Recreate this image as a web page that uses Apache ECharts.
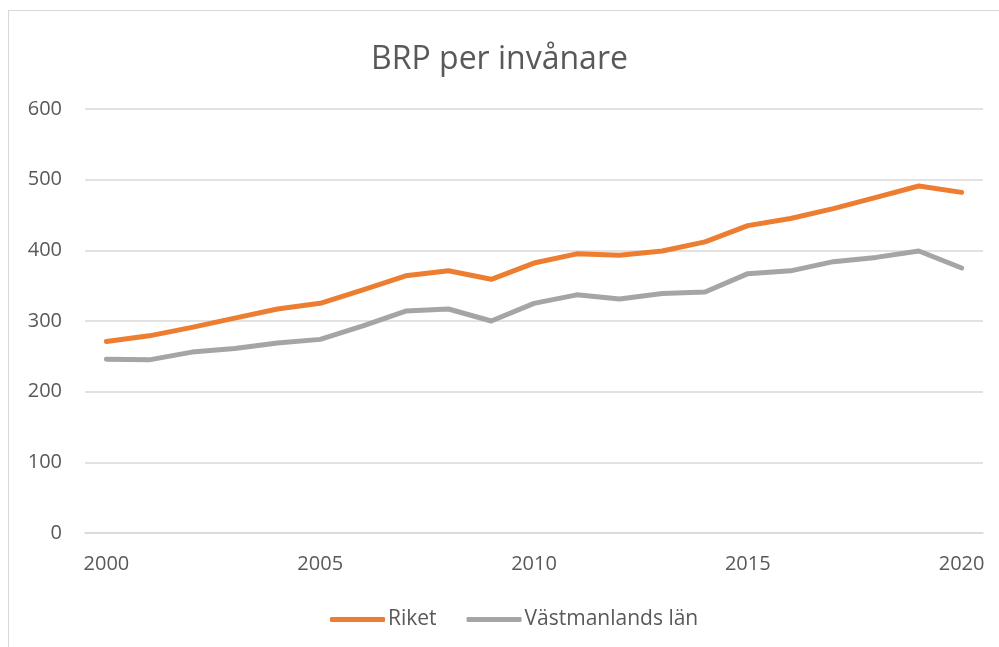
<!DOCTYPE html>
<html>
<head>
<meta charset="utf-8">
<script src="https://cdn.jsdelivr.net/npm/echarts@6/dist/echarts.min.js"></script>
<style>
  html, body { margin: 0; padding: 0; background: #fff; }
  #frame { position: absolute; left: 8px; top: 10px; width: 1000px; height: 650px; border: 1.5px solid #d9d9d9; box-sizing: border-box; }
  #chart { position: absolute; left: 0; top: 0; width: 999px; height: 647px; }
</style>
</head>
<body>
<div id="frame"></div>
<div id="chart"></div>
<script>
  // år
  const years = ['2000', '2001', '2002', '2003', '2004', '2005', '2006', '2007', '2008', '2009', '2010',
    '2011', '2012', '2013', '2014', '2015', '2016', '2017', '2018', '2019', '2020'];
  const riket = [271, 279, 291, 304, 317, 325, 344, 364, 371, 359, 382,
    395, 393, 399, 412, 435, 445, 459, 475, 491, 482];
  const vastmanland = [246, 245, 256, 261, 269, 274, 293, 314, 317, 300, 325,
    337, 331, 339, 341, 367, 371, 384, 390, 399, 375];
  const yTicks = [0, 100, 200, 300, 400, 500, 600];

  const font = '"Open Sans", "Noto Sans", sans-serif';
  const chart = echarts.init(document.getElementById('chart'));
  chart.setOption({
    animation: false,
    title: {
      text: 'BRP per invånare',
      left: 'center',
      top: 39,
      textStyle: { fontFamily: font, fontSize: 32, fontWeight: 'normal', color: '#595959' }
    },
    legend: {
      bottom: 12,
      left: 325,
      itemWidth: 55,
      itemHeight: 5,
      itemGap: 30,
      icon: 'roundRect',
      textStyle: { fontFamily: font, fontSize: 21, color: '#595959', padding: [0, 0, 0, -2] },
      data: ['Riket', 'Västmanlands län']
    },
    grid: { left: 85, right: 16, top: 109, bottom: 114 },
    xAxis: {
      type: 'category',
      data: years,
      boundaryGap: true,
      axisLine: { lineStyle: { color: '#d9d9d9', width: 1.5 } },
      axisTick: { show: false },
      axisLabel: {
        interval: 4,
        margin: 21,
        fontFamily: font, fontSize: 20, color: '#595959'
      }
    },
    yAxis: {
      type: 'value',
      min: yTicks[0],
      max: yTicks[yTicks.length - 1],
      interval: 100,
      axisLine: { show: false },
      axisTick: { show: false },
      splitLine: { lineStyle: { color: '#d9d9d9', width: 1.5 } },
      axisLabel: { margin: 23, fontFamily: font, fontSize: 20, color: '#595959' }
    },
    series: [
      {
        name: 'Riket',
        type: 'line',
        data: riket,
        symbol: 'none',
        lineStyle: { color: '#ED7D31', width: 5, cap: 'round', join: 'round' },
        itemStyle: { color: '#ED7D31' }
      },
      {
        name: 'Västmanlands län',
        type: 'line',
        data: vastmanland,
        symbol: 'none',
        lineStyle: { color: '#A5A5A5', width: 5, cap: 'round', join: 'round' },
        itemStyle: { color: '#A5A5A5' }
      }
    ]
  });
</script>
</body>
</html>
